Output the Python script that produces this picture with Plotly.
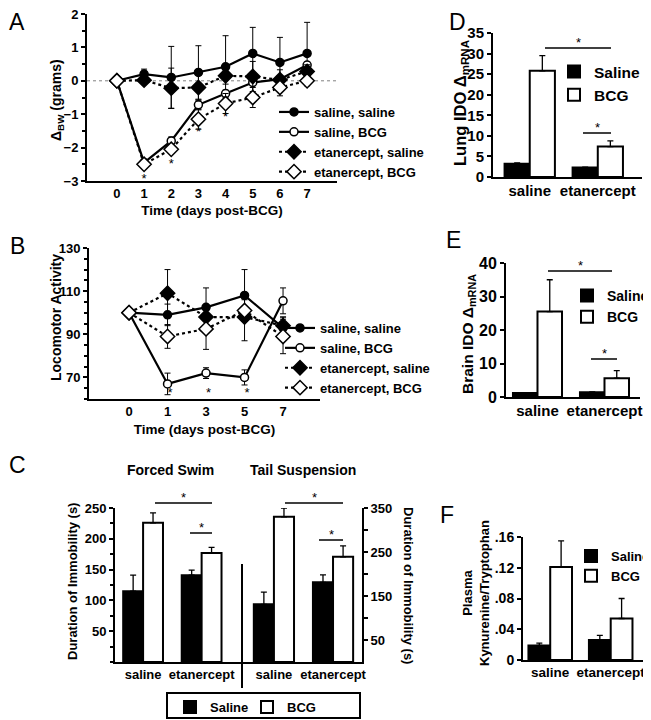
import plotly.graph_objects as go

# The page body has an 8px margin, so the figure is drawn 8px in from the
# top-left corner of the 651x720 window; all positions below are given in
# window pixels and converted here.
OFF = 8
W, H = 651 - OFF, 720 - OFF
FONT = "Arial, Liberation Sans, sans-serif"


def fx(p):
    return (p - OFF) / W


def fy(p):
    return 1 - (p - OFF) / H


# ---------------- Panel A : body weight change ----------------
days_A = [0, 1, 2, 3, 4, 5, 6, 7]
A_sal_sal = [0, 0.2, 0.1, 0.25, 0.42, 0.82, 0.55, 0.82]
A_sal_sal_err = [0, 0.15, 0.93, 0.8, 0.93, 0.78, 0.75, 0.93]
A_sal_bcg = [0, -2.45, -1.8, -0.72, -0.38, -0.05, 0.05, 0.47]
A_sal_bcg_err = [0, 0.1, 0.12, 0.15, 0.1, 0.1, 0.1, 0.1]
A_eta_sal = [0, 0.02, -0.22, -0.2, 0.15, 0.13, 0.03, 0.28]
A_eta_sal_err = [0, 0.1, 0.6, 0.4, 0.25, 0.45, 0.3, 0.2]
A_eta_bcg = [0, -2.5, -2.05, -1.15, -0.68, -0.5, -0.2, 0.0]
A_eta_bcg_err = [0, 0.1, 0.1, 0.3, 0.3, 0.3, 0.25, 0.15]
A_star_days = [1, 2, 3, 4]
A_star_y = [-2.95, -2.5, -1.57, -1.1]

# ---------------- Panel B : locomotor activity ----------------
days_B = ["0", "1", "3", "5", "7"]
B_sal_sal = [100, 99, 102.5, 108, 93]
B_sal_sal_err = [0, 5, 9, 12, 5]
B_sal_bcg = [100, 67, 72, 70, 105.5]
B_sal_bcg_err = [0, 5, 2.5, 3.5, 6]
B_eta_sal = [100, 109, 98, 98, 94]
B_eta_sal_err = [0, 11, 4, 11, 4]
B_eta_bcg = [100, 89, 92.5, 101, 89]
B_eta_bcg_err = [0, 5.5, 9.5, 5, 8]
B_star_days = ["1", "3", "5"]
B_star_y = [62.5, 62.5, 62.5]

series_names = ["saline, saline", "saline, BCG", "etanercept, saline", "etanercept, BCG"]

# ---------------- Panel C : immobility ----------------
groups = ["saline", "etanercept"]
FS_sal = [115, 141]
FS_sal_err = [26, 8]
FS_bcg = [226, 177]
FS_bcg_err = [16, 9]
TS_sal = [131, 181]
TS_sal_err = [28, 17]
TS_bcg = [330, 239]
TS_bcg_err = [20, 25]

# ---------------- Panel D : lung IDO ----------------
D_sal = [3.2, 2.3]
D_sal_err = [0.2, 0.1]
D_bcg = [25.8, 7.4]
D_bcg_err = [3.7, 1.4]

# ---------------- Panel E : brain IDO ----------------
E_sal = [1.2, 1.4]
E_sal_err = [0.1, 0.1]
E_bcg = [25.5, 5.6]
E_bcg_err = [9.5, 2.3]

# ---------------- Panel F : plasma kyn/trp ----------------
F_sal = [0.019, 0.026]
F_sal_err = [0.003, 0.006]
F_bcg = [0.121, 0.054]
F_bcg_err = [0.034, 0.026]

fig = go.Figure()

line_styles = [
    dict(dash="solid", symbol="circle", fill="black", size=8),
    dict(dash="solid", symbol="circle", fill="white", size=8),
    dict(dash="dot", symbol="diamond", fill="black", size=11),
    dict(dash="dot", symbol="diamond", fill="white", size=11),
]


def add_lines(xs, ys_list, errs_list, xa, ya, legend):
    for name, ys, errs, st in zip(series_names, ys_list, errs_list, line_styles):
        fig.add_trace(go.Scatter(
            x=xs, y=ys, name=name, mode="lines+markers",
            line=dict(color="black", width=2.2, dash=st["dash"]),
            marker=dict(symbol=st["symbol"], size=st["size"], color=st["fill"],
                        line=dict(color="black", width=1.5)),
            error_y=dict(type="data", array=errs, color="black", thickness=1, width=3),
            xaxis=xa, yaxis=ya, legend=legend, cliponaxis=False,
        ))


add_lines(days_A, [A_sal_sal, A_sal_bcg, A_eta_sal, A_eta_bcg],
          [A_sal_sal_err, A_sal_bcg_err, A_eta_sal_err, A_eta_bcg_err], "x", "y", "legend")
fig.add_trace(go.Scatter(x=A_star_days, y=A_star_y, mode="text", text=["*"] * 4,
                         textfont=dict(family=FONT, size=13, color="black"),
                         showlegend=False, xaxis="x", yaxis="y", cliponaxis=False))

add_lines(days_B, [B_sal_sal, B_sal_bcg, B_eta_sal, B_eta_bcg],
          [B_sal_sal_err, B_sal_bcg_err, B_eta_sal_err, B_eta_bcg_err], "x2", "y2", "legend2")
fig.add_trace(go.Scatter(x=B_star_days, y=B_star_y, mode="text", text=["*"] * 3,
                         textposition="middle right",
                         textfont=dict(family=FONT, size=13, color="black"),
                         showlegend=False, xaxis="x2", yaxis="y2", cliponaxis=False))


def add_bars(sal, sal_err, bcg, bcg_err, xa, ya, legend, width, showlegend=True):
    fig.add_trace(go.Bar(
        x=groups, y=sal, name="Saline", width=width, offset=-width,
        marker=dict(color="black", line=dict(color="black", width=2)),
        error_y=dict(type="data", array=sal_err, arrayminus=[0, 0], symmetric=False,
                     color="black", thickness=1.3, width=3),
        xaxis=xa, yaxis=ya, legend=legend, showlegend=showlegend, cliponaxis=False))
    fig.add_trace(go.Bar(
        x=groups, y=bcg, name="BCG", width=width, offset=0,
        marker=dict(color="white", line=dict(color="black", width=2)),
        error_y=dict(type="data", array=bcg_err, arrayminus=[0, 0], symmetric=False,
                     color="black", thickness=1.3, width=3),
        xaxis=xa, yaxis=ya, legend=legend, showlegend=showlegend, cliponaxis=False))


add_bars(FS_sal, FS_sal_err, FS_bcg, FS_bcg_err, "x3", "y3", "legend3", 0.34)
add_bars(TS_sal, TS_sal_err, TS_bcg, TS_bcg_err, "x4", "y4", "legend3", 0.34, showlegend=False)
add_bars(D_sal, D_sal_err, D_bcg, D_bcg_err, "x5", "y5", "legend4", 0.37)
add_bars(E_sal, E_sal_err, E_bcg, E_bcg_err, "x6", "y6", "legend5", 0.366)
add_bars(F_sal, F_sal_err, F_bcg, F_bcg_err, "x7", "y7", "legend6", 0.36)


def tickf(s):
    return dict(family=FONT, size=s, color="black", weight="bold")


def titlef(s):
    return dict(family=FONT, size=s, color="black", weight="bold")


def xax(dom, rng, anchor, size=13, title=None, standoff=0, **kw):
    d = dict(domain=[fx(dom[0]), fx(dom[1])], range=rng, anchor=anchor,
             showline=True, linecolor="black", linewidth=2, showgrid=False,
             zeroline=False, ticks="", tickfont=tickf(size), automargin=False,
             ticklabelstandoff=-1, ticklabeloverflow="allow")
    if title:
        d["title"] = dict(text=title, font=titlef(13.5), standoff=standoff)
    d.update(kw)
    return d


def yax(dom, rng, anchor, size=13, **kw):
    d = dict(domain=[fy(dom[1]), fy(dom[0])], range=rng, anchor=anchor,
             showline=True, linecolor="black", linewidth=2, showgrid=False,
             zeroline=False, ticks="outside", ticklen=4, tickwidth=1.5, tickcolor="black",
             tickfont=tickf(size), automargin=False, ticklabeloverflow="allow")
    d.update(kw)
    return d


layout = dict(
    width=W, height=H, margin=dict(l=0, r=0, t=0, b=0, autoexpand=False),
    paper_bgcolor="white", plot_bgcolor="white",
    font=dict(family=FONT, color="black"),
    barmode="overlay",
    xaxis=xax([87, 337], [-1.1, 8.1], "y", title="Time (days post-BCG)", standoff=6,
              tickvals=days_A),
    yaxis=yax([14, 181], [-3, 2], "x", tickvals=[-3, -2, -1, 0, 1, 2],
              minor=dict(dtick=0.5, ticks="outside", ticklen=3, tickcolor="black")),
    xaxis2=xax([89, 320], [-1.04, 4.96], "y2", title="Time (days post-BCG)", standoff=7,
               type="category"),
    yaxis2=yax([248, 399], [60, 130], "x2", tickvals=[70, 90, 110, 130],
               minor=dict(dtick=5, ticks="outside", ticklen=3, tickcolor="black")),
    xaxis3=xax([115, 242], [-0.48, 1.69], "y3", type="category"),
    yaxis3=yax([508, 662], [0, 250], "x3", tickvals=[50, 100, 150, 200, 250],
               minor=dict(dtick=25, ticks="outside", ticklen=3, tickcolor="black")),
    xaxis4=xax([242, 362], [-0.54, 1.49], "y4", type="category"),
    yaxis4=yax([508, 662], [0, 350], "x4", side="right",
               tickvals=[50, 150, 250, 350],
               minor=dict(tickvals=[100, 200, 300], ticks="outside", ticklen=4, tickcolor="black")),
    xaxis5=xax([493, 642], [-0.54, 1.65], "y5", size=15, type="category"),
    yaxis5=yax([33, 177], [0, 35], "x5", size=15, dtick=5),
    xaxis6=xax([506, 640], [-0.47, 1.53], "y6", size=15, type="category"),
    yaxis6=yax([263, 397], [0, 40], "x6", size=16, dtick=10),
    xaxis7=xax([523, 647], [-0.45, 1.6], "y7", size=13.5, type="category"),
    yaxis7=yax([537, 660], [0, 0.16], "x7", size=14,
               tickvals=[0, 0.04, 0.08, 0.12, 0.16],
               ticktext=["0", ".04", ".08", ".12", ".16"]),
)

leg_common = dict(bgcolor="rgba(0,0,0,0)", itemwidth=30, xanchor="left", yanchor="top",
                  itemclick=False)
layout["legend"] = dict(x=fx(274), y=fy(97), font=titlef(13), **leg_common)
layout["legend2"] = dict(x=fx(280), y=fy(313), font=titlef(13), **leg_common)
layout["legend3"] = dict(x=fx(170), y=fy(692), orientation="h", font=titlef(13),
                         entrywidth=32, **leg_common)
layout["legend4"] = dict(x=fx(564), y=fy(55), font=titlef(15.5), indentation=-10, **leg_common)
layout["legend5"] = dict(x=fx(577), y=fy(280), font=titlef(14), indentation=-10, **leg_common)
layout["legend6"] = dict(x=fx(581), y=fy(541), font=titlef(13), indentation=-10, **leg_common)

fig.update_layout(**layout)

# legend frame for C
fig.add_shape(type="rect", xref="paper", yref="paper", x0=fx(167), x1=fx(360),
              y0=fy(718), y1=fy(693), line=dict(color="black", width=2))

# zero reference line in A
fig.add_shape(type="line", xref="x domain", yref="y", x0=0, x1=1, y0=0, y1=0,
              line=dict(color="gray", width=1, dash="dot"), layer="below")

# significance brackets, window pixels: (x0, x1, y)
sig_lines = [
    (155, 212, 503), (190, 212, 533),
    (285, 343, 503), (319, 343, 540),
    (545, 611, 48), (583, 611, 133),
    (548, 612, 271), (591, 617, 359),
]
for x0, x1, yv in sig_lines:
    fig.add_shape(type="line", xref="paper", yref="paper", x0=fx(x0), x1=fx(x1),
                  y0=fy(yv), y1=fy(yv), line=dict(color="black", width=1.5))
    fig.add_annotation(xref="paper", yref="paper", x=fx((x0 + x1) / 2), y=fy(yv),
                       text="*", showarrow=False, xanchor="center",
                       yanchor="bottom", yshift=-4, font=dict(family=FONT, size=13, color="black"))

# divider in C
fig.add_shape(type="line", xref="paper", yref="paper", x0=fx(242), x1=fx(242),
              y0=fy(564), y1=fy(688), line=dict(color="black", width=2))

# panel letters
for letter, x, y in [("A", 17, 22), ("B", 17, 246), ("C", 17, 465), ("D", 457, 22),
                     ("E", 453, 240), ("F", 447, 515)]:
    fig.add_annotation(xref="paper", yref="paper", x=fx(x), y=fy(y), text=letter,
                       showarrow=False, xanchor="center", yanchor="middle",
                       font=dict(family=FONT, size=23, color="black"))

# headings
for txt, x, y in [("Forced Swim", 170, 470), ("Tail Suspension", 303, 470)]:
    fig.add_annotation(xref="paper", yref="paper", x=fx(x), y=fy(y), text=txt,
                       showarrow=False, xanchor="center", yanchor="middle", font=titlef(14))

# y-axis titles
y_titles = [
    ("Δ<sub>BW</sub> (grams)", 57, 100, 14, -90),
    ("Locomotor Activity", 56, 318, 14, -90),
    ("Duration of Immobility (s)", 72, 582, 13, -90),
    ("Duration of Immobility (s)", 409, 585, 13, 90),
    ("Lung IDO Δ<sub>mRNA</sub>", 461, 103, 16.5, -90),
    ("Brain IDO Δ<sub>mRNA</sub>", 469, 334, 15.5, -90),
    ("Plasma<br>Kynurenine/Tryptophan", 476, 593, 13, -90),
]
for txt, x, y, s, ang in y_titles:
    fig.add_annotation(xref="paper", yref="paper", x=fx(x), y=fy(y), text=txt,
                       textangle=ang, showarrow=False, xanchor="center", yanchor="middle",
                       font=titlef(s))

fig.write_html("out.html")
